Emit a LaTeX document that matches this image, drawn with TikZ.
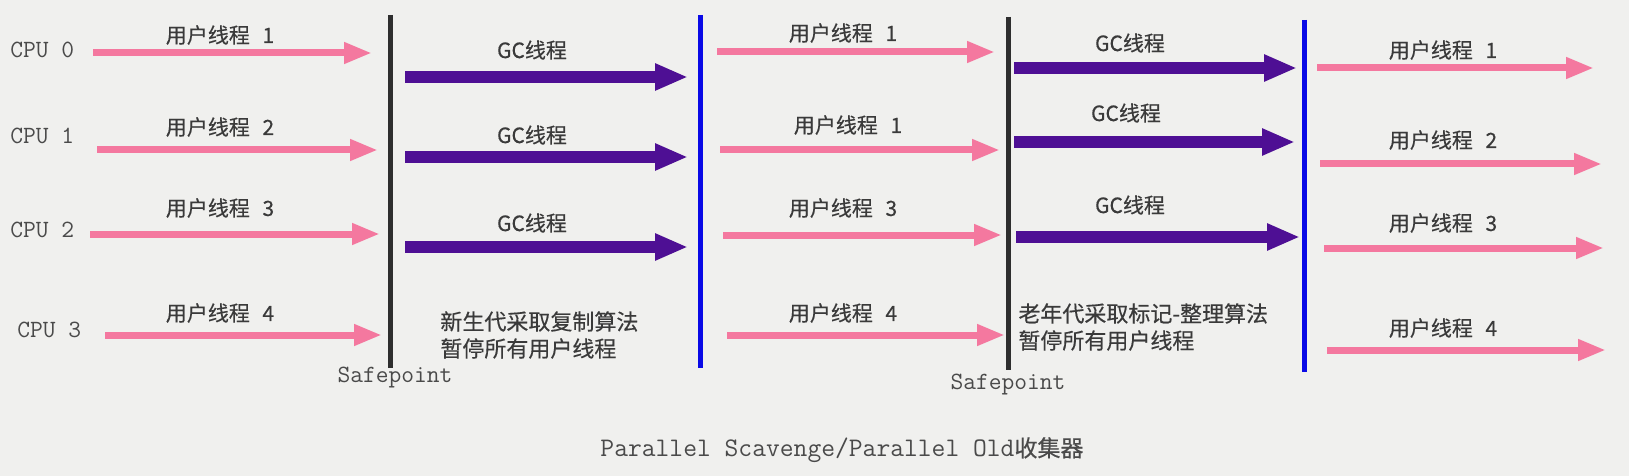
\documentclass[tikz,border=0pt]{standalone}
\usepackage{fontspec}
\setmainfont{Noto Sans CJK SC}[FakeBold=0.4]
\usetikzlibrary{arrows.meta}
\definecolor{pscPink}{HTML}{F4789F}
\definecolor{pscPurple}{HTML}{4E0F94}
\definecolor{pscBlue}{HTML}{0A0AE6}
\definecolor{pscBar}{HTML}{2E2E2E}
\definecolor{pscBg}{HTML}{F0F0EE}
\definecolor{pscInk}{HTML}{3A3A3A}
\definecolor{pscGrey}{HTML}{4A4A4A}

\begin{document}
\begin{tikzpicture}[x=0.5pt,y=-0.5pt,
  user/.style={draw=pscPink,line width=3.5pt,-{Triangle[length=14pt,width=10pt]}},
  gcflow/.style={draw=pscPurple,line width=6pt,-{Triangle[length=16.5pt,width=12.5pt]}},
  bar/.style={line width=2.5pt},
  tag/.style={text=pscInk,font=\fontsize{10.5}{12}\selectfont,inner sep=0pt},
  mono/.style={text=pscGrey,font=\ttfamily\fontsize{12.4}{14}\selectfont,inner sep=0pt},
  note/.style={text=pscInk,font=\fontsize{11}{13.5}\selectfont,align=left,
               anchor=west,inner sep=0pt}]
  \fill[pscBg] (0,0) rectangle (1629,476);
  \useasboundingbox (0,0) rectangle (1629,476);

  \foreach \i/\x/\y in {0/10/50,1/10/136,2/10/230,3/17/330}
    \node[mono,anchor=west] (cpu\i) at (\x,\y) {CPU \i};

  \coordinate (sp1t) at (390,15);  \coordinate (sp1b) at (390,368);
  \coordinate (rs1t) at (700,15);  \coordinate (rs1b) at (700,368);
  \coordinate (sp2t) at (1008,17); \coordinate (sp2b) at (1008,370);
  \coordinate (rs2t) at (1304,20); \coordinate (rs2b) at (1304,372);
  \draw[bar,pscBar] (sp1t) -- (sp1b);
  \draw[bar,pscBlue] (rs1t) -- (rs1b);
  \draw[bar,pscBar] (sp2t) -- (sp2b);
  \draw[bar,pscBlue] (rs2t) -- (rs2b);
  \node[mono] (safe1) at (395,378) {Safepoint};
  \node[mono] (safe2) at (1008,385) {Safepoint};

  \foreach \i/\xs/\xe/\y/\lx/\ly/\t in {1/93/372/53/220/35/1, 2/97/378/150/220/127/2,
      3/90/380/234/220/208/3, 4/105/382/335/220/313/4,
      5/717/995/52/843/33/1, 6/720/1000/150/848/125/1,
      7/723/1002/235/843/208/3, 8/727/1005/335/843/313/4,
      9/1317/1594/68/1443/50/1, 10/1320/1602/164/1443/140/2,
      11/1324/1604/248/1443/223/3, 12/1327/1606/350/1443/328/4}{
    \coordinate (us\i) at (\xs,\y);
    \coordinate (ue\i) at (\xe,\y);
    \draw[user] (us\i) -- (ue\i);
    \node[tag] (ul\i) at (\lx,\ly) {用户线程\hspace{0.6em}\t};
  }

  \foreach \i/\xs/\xe/\y/\lx/\ly in {1/405/688/77/532/50, 2/405/688/157/532/135,
      3/405/688/247/532/223, 4/1014/1297/68/1130/43,
      5/1014/1295/142/1126/113, 6/1016/1300/237/1130/205}{
    \coordinate (gs\i) at (\xs,\y);
    \coordinate (ge\i) at (\xe,\y);
    \draw[gcflow] (gs\i) -- (ge\i);
    \node[tag] (gl\i) at (\lx,\ly) {GC线程};
  }

  \node[note] (young) at (440,335) {新生代采取复制算法\\暂停所有用户线程};
  \node[note] (old) at (1018,327) {老年代采取标记-整理算法\\暂停所有用户线程};
  \node[mono,font=\ttfamily\fontsize{13.4}{15}\selectfont] (title) at (842,450)
    {Parallel Scavenge/Parallel Old{\rmfamily\fontsize{11.5}{14}\selectfont 收集器}};
\end{tikzpicture}
\end{document}
